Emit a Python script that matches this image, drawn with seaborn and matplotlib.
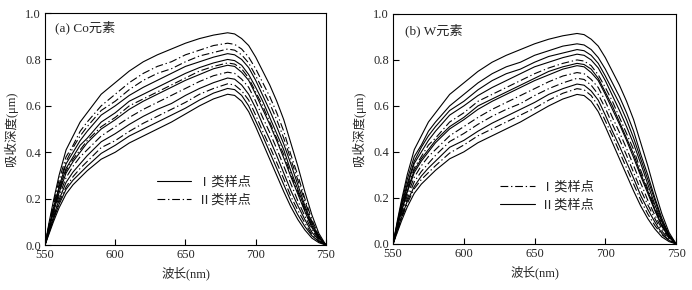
import numpy as np
import pandas as pd
import matplotlib
matplotlib.use('Agg')
import matplotlib.pyplot as plt
from matplotlib.lines import Line2D
import seaborn as sns

# wavelength grid (nm)
wavelength = [550, 553, 556, 560, 565, 570, 575, 580, 590, 600, 610, 620, 630, 640, 650,
              660, 670, 680, 685, 690, 695, 700, 705, 710, 715, 720, 725, 730, 735, 740, 745, 750]

# absorption depth curves (top to bottom)
c1 = [0, .10, .19, .30, .41, .47, .53, .57, .65, .70, .75, .79, .82, .845, .87, .89, .905, .915,
      .91, .89, .86, .81, .75, .69, .62, .54, .44, .34, .23, .13, .05, 0]
c2 = [0, .09, .18, .28, .38, .43, .49, .53, .60, .65, .70, .74, .77, .79, .82, .84, .86, .87,
      .865, .845, .81, .76, .70, .64, .57, .49, .39, .30, .20, .11, .04, 0]
c3 = [0, .09, .17, .26, .36, .42, .47, .51, .58, .62, .67, .71, .74, .76, .79, .815, .83, .845,
      .84, .82, .785, .73, .67, .61, .54, .46, .37, .28, .19, .10, .04, 0]
c4 = [0, .08, .16, .25, .35, .40, .45, .49, .56, .60, .645, .68, .71, .74, .77, .79, .81, .825,
      .82, .80, .765, .71, .645, .58, .51, .435, .35, .26, .17, .095, .035, 0]
c5 = [0, .08, .15, .24, .33, .38, .43, .46, .53, .57, .62, .65, .68, .71, .74, .765, .785, .80,
      .795, .775, .735, .68, .62, .55, .48, .41, .32, .24, .16, .085, .03, 0]
c6 = [0, .075, .145, .23, .32, .37, .41, .45, .51, .55, .60, .63, .66, .69, .72, .75, .77, .785,
      .78, .76, .72, .66, .60, .53, .46, .39, .305, .23, .15, .08, .03, 0]
c7 = [0, .07, .14, .225, .31, .36, .40, .44, .50, .54, .585, .62, .65, .68, .71, .735, .76, .775,
      .77, .745, .71, .65, .585, .52, .45, .375, .295, .22, .145, .075, .03, 0]
c8 = [0, .07, .13, .21, .29, .34, .38, .41, .47, .51, .55, .585, .615, .645, .675, .705, .73, .745,
      .74, .715, .68, .62, .55, .485, .415, .34, .265, .19, .125, .065, .025, 0]
c9 = [0, .065, .12, .195, .27, .315, .35, .385, .445, .48, .52, .555, .585, .61, .645, .675, .70, .72,
      .715, .69, .65, .59, .52, .455, .385, .31, .235, .17, .11, .055, .02, 0]
c10 = [0, .06, .115, .185, .25, .295, .33, .36, .42, .45, .49, .525, .555, .585, .615, .65, .675, .695,
       .69, .665, .625, .56, .49, .425, .355, .285, .21, .15, .095, .045, .015, 0]
c11 = [0, .055, .11, .175, .24, .28, .31, .34, .395, .43, .47, .50, .53, .56, .59, .625, .655, .675,
       .67, .645, .60, .535, .47, .40, .33, .26, .19, .13, .08, .04, .015, 0]
c12 = [0, .05, .10, .16, .22, .26, .29, .32, .37, .40, .44, .47, .50, .53, .565, .60, .63, .65,
       .645, .62, .575, .51, .44, .37, .30, .23, .165, .11, .065, .03, .01, 0]
curves = [c1, c2, c3, c4, c5, c6, c7, c8, c9, c10, c11, c12]

labels = ['Ⅰ类样点', 'Ⅱ类样点']
# class of each curve in each panel
class_a = ['Ⅰ', 'Ⅱ', 'Ⅱ', 'Ⅰ', 'Ⅰ', 'Ⅱ', 'Ⅰ', 'Ⅱ', 'Ⅰ', 'Ⅱ', 'Ⅰ', 'Ⅰ']
class_b = ['Ⅱ', 'Ⅱ', 'Ⅱ', 'Ⅱ', 'Ⅰ', 'Ⅱ', 'Ⅱ', 'Ⅰ', 'Ⅰ', 'Ⅱ', 'Ⅰ', 'Ⅱ']

sns.set_style('ticks')
plt.rcParams['font.family'] = ['Liberation Serif', 'Noto Sans CJK SC']
plt.rcParams['xtick.direction'] = 'in'
plt.rcParams['ytick.direction'] = 'in'
plt.rcParams['axes.unicode_minus'] = False

DASHDOT = (7, 2.5, 1.2, 2.5)
SOLID = ''


def long_frame(classes):
    rows = []
    for i, (c, cl) in enumerate(zip(curves, classes)):
        for w, v in zip(wavelength, c):
            rows.append((w, v, i, cl))
    return pd.DataFrame(rows, columns=['wl', 'depth', 'curve', 'cls'])


fig = plt.figure(figsize=(6.92, 2.9), dpi=100)
ax_a = fig.add_axes([0.065, 0.155, 0.406, 0.80])
ax_b = fig.add_axes([0.568, 0.159, 0.409, 0.793])

panels = [
    (ax_a, class_a, {'Ⅰ': SOLID, 'Ⅱ': DASHDOT}, '(a) Co元素', (0.035, 0.94), (0.38, 0.32)),
    (ax_b, class_b, {'Ⅰ': DASHDOT, 'Ⅱ': SOLID}, '(b) W元素', (0.042, 0.93), (0.36, 0.295)),
]

for ax, classes, dashes, title, tpos, lpos in panels:
    df = long_frame(classes)
    sns.lineplot(data=df, x='wl', y='depth', units='curve', style='cls', estimator=None,
                 dashes=dashes, color='black', linewidth=0.8, legend=False, sort=False, ax=ax)
    ax.set_xlim(550, 750)
    ax.set_ylim(0, 1.0)
    ax.set_xticks([550, 600, 650, 700, 750])
    ax.set_yticks([0, 0.2, 0.4, 0.6, 0.8, 1.0])
    ax.set_yticklabels(['0.0', '0.2', '0.4', '0.6', '0.8', '1.0'])
    ax.tick_params(labelsize=9, length=4, width=0.8, color='black', pad=3)
    for s in ax.spines.values():
        s.set_linewidth(0.8)
        s.set_color('black')
    ax.set_xlabel('波长(nm)', fontsize=9, labelpad=4)
    ax.set_ylabel('吸收深度(μm)', fontsize=9, labelpad=5)
    ax.text(tpos[0], tpos[1], title, transform=ax.transAxes, fontsize=9.5, va='center', ha='left')

    handles = []
    for key in ['Ⅰ', 'Ⅱ']:
        d = dashes[key]
        h = Line2D([], [], color='black', linewidth=0.8)
        if d:
            h.set_dashes(d)
        handles.append(h)
    ax.legend(handles, labels, loc='upper left', bbox_to_anchor=lpos, frameon=False,
              fontsize=9.5, handlelength=2.6, handletextpad=0.5, labelspacing=0.45,
              borderaxespad=0)

fig.savefig('out.png', dpi=100)
